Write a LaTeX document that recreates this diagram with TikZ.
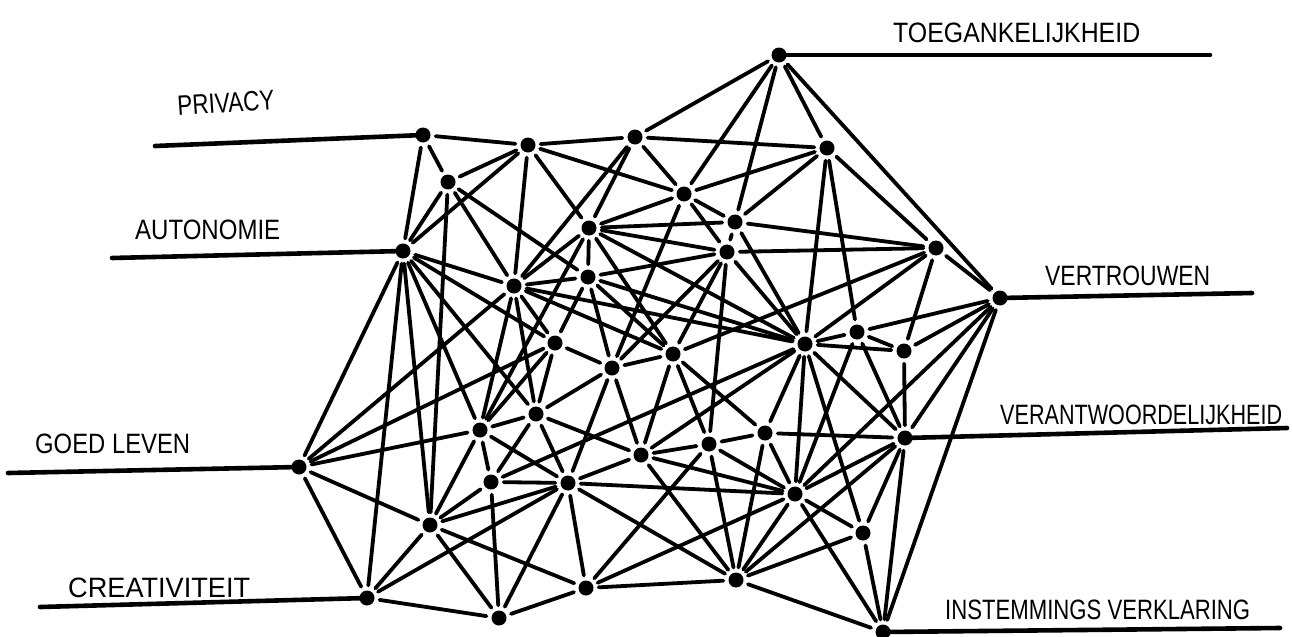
\documentclass[tikz,border=0pt]{standalone}
\usepackage{fontspec}
\setmainfont{Liberation Sans}
\usepackage{graphicx}
\newsavebox\lblbox
\newcommand\fitw[2]{\sbox\lblbox{#2}\pgfmathsetmacro\myratio{#1/\wd\lblbox}\scalebox{\myratio}[1]{\usebox\lblbox}}
\tikzset{
  dot/.style={circle,fill=black,inner sep=0pt,minimum size=15pt},
  edge/.style={line width=3.8pt,line cap=round,shorten <=5pt,shorten >=5pt},
  lblline/.style={line width=4.6pt,line cap=round},
  lbl/.style={anchor=base west,inner sep=0pt,font=\fontsize{28}{32}\selectfont}
}
\begin{document}
\begin{tikzpicture}[x=1pt,y=-1pt]
\useasboundingbox (0,0) rectangle (1293,637);
\fill[white] (0,0) rectangle (1293,637);
% nodes
\node[dot] (T) at (779,55) {};
\node[dot] (P) at (423,135) {};
\node[dot] (a1) at (528,145) {};
\node[dot] (a2) at (635,137) {};
\node[dot] (a3) at (827,148) {};
\node[dot] (b1) at (448,182) {};
\node[dot] (b2) at (684,194) {};
\node[dot] (c1) at (589,228) {};
\node[dot] (c2) at (735,222) {};
\node[dot] (c3) at (936,248) {};
\node[dot] (A) at (403,251) {};
\node[dot] (c4) at (727,252) {};
\node[dot] (d1) at (588,277) {};
\node[dot] (d2) at (514,286) {};
\node[dot] (V) at (1000,298) {};
\node[dot] (e1) at (857,332) {};
\node[dot] (e2) at (805,344) {};
\node[dot] (e3) at (555,343) {};
\node[dot] (e4) at (904,351) {};
\node[dot] (e5) at (673,354) {};
\node[dot] (e6) at (612,368) {};
\node[dot] (f1) at (536,414) {};
\node[dot] (f2) at (480,430) {};
\node[dot] (f3) at (765,433) {};
\node[dot] (W) at (905,438) {};
\node[dot] (f4) at (709,444) {};
\node[dot] (f5) at (641,455) {};
\node[dot] (G) at (299,467) {};
\node[dot] (g1) at (491,482) {};
\node[dot] (g2) at (568,483) {};
\node[dot] (g3) at (795,494) {};
\node[dot] (h1) at (430,525) {};
\node[dot] (h2) at (863,533) {};
\node[dot] (C) at (367,598) {};
\node[dot] (k1) at (586,588) {};
\node[dot] (k2) at (736,580) {};
\node[dot] (k3) at (499,618) {};
\node[dot] (I) at (883,632) {};
% label line ends
\coordinate (Tl) at (1210,55);
\coordinate (Pl) at (155,146);
\coordinate (Al) at (112,258);
\coordinate (Vl) at (1252,293);
\coordinate (Wl) at (1287,428);
\coordinate (Gl) at (8,473);
\coordinate (Cl) at (40,607);
\coordinate (Il) at (1280,628);
\foreach \n in {T,P,A,V,W,G,C,I}
  \draw[lblline] (\n.center) -- (\n l);
% edges
\foreach \a/\b in {
 P/a1, P/b1, P/A,
 a1/b1, a1/A, a1/d2, a1/c1, a1/b2, a1/a2,
 a2/T, a2/a3, a2/b2, a2/d2, a2/c1,
 T/a3, T/V, T/b2, T/c2,
 a3/b2, a3/c2, a3/e2, a3/e1, a3/c3,
 c3/c2, c3/c4, c3/e5, c3/e2, c3/e4, c3/V,
 V/e1, V/e4, V/W, V/I, V/g3,
 b1/A, b1/h1, b1/d2, b1/d1,
 A/d2, A/e3, A/f1, A/f2, A/h1, A/C, A/G,
 G/d2, G/e3, G/f2, G/h1, G/C,
 C/h1, C/g2, C/k3,
 h1/f2, h1/g1, h1/g2, h1/k1, h1/k3,
 k3/g1, k3/g2, k3/k1,
 k1/g2, k1/f4, k1/g3, k1/k2,
 k2/g2, k2/f5, k2/f4, k2/f3, k2/g3, k2/h2, k2/I, k2/W,
 g1/g2, g1/f2, g1/f1, g1/e2,
 f2/f1, f2/g2, f2/d2, f2/e3, f2/c1,
 f1/e6, f1/f5, f1/g2, f1/e3, f1/d2,
 g2/f5, g2/e6, g2/g3,
 f5/f4, f5/g3, f5/e6, f5/e5, f5/e2,
 e6/e5, e6/b2, e6/d1, e6/e3, e6/c4,
 e3/d1, e3/d2,
 c2/b2, c2/c4, c2/c1, c2/e2,
 c1/c4, c1/d1, c1/d2, c1/e5, c1/e2,
 b2/c4, b2/c1,
 d1/c4, d1/e2, d1/d2, d1/e5,
 d2/e2, d2/e5,
 e5/c4, e5/f4, e5/f3,
 c4/f4, c4/e2,
 e2/g3, e2/h2, e2/W, e2/f3, e2/e4, e2/e1,
 e1/e4, e1/g3, e1/W,
 e4/W,
 W/f3, W/g3, W/h2, W/I,
 f3/f4, f3/g3,
 f4/g3,
 g3/h2, g3/I,
 h2/I}
  \draw[edge] (\a) -- (\b);
% labels
\node[lbl] (tT) at (893,42) {\fitw{247}{TOEGANKELIJKHEID}};
\node[lbl,rotate=4] (tP) at (178,116) {\fitw{97}{PRIVACY}};
\node[lbl] (tA) at (135,239) {\fitw{145}{AUTONOMIE}};
\node[lbl] (tV) at (1045,285) {\fitw{165}{VERTROUWEN}};
\node[lbl] (tW) at (1000,424) {\fitw{282}{VERANTWOORDELIJKHEID}};
\node[lbl] (tG) at (35,453) {\fitw{155}{GOED LEVEN}};
\node[lbl] (tC) at (68,597) {\fitw{182}{CREATIVITEIT}};
\node[lbl] (tI) at (945,619) {\fitw{305}{INSTEMMINGS VERKLARING}};
\end{tikzpicture}
\end{document}
